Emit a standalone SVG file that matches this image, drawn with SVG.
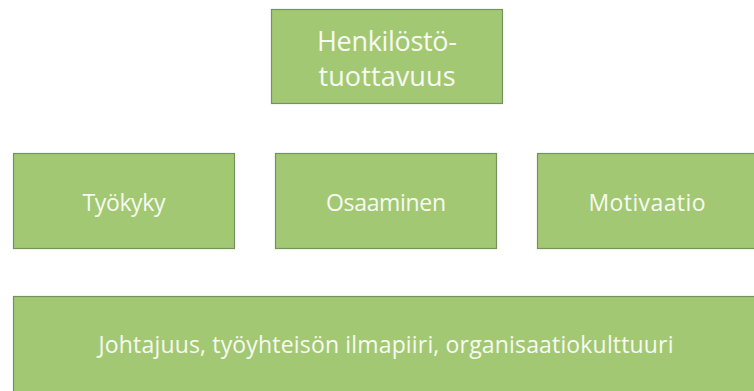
<svg xmlns="http://www.w3.org/2000/svg" width="754" height="391" viewBox="0 0 754 391">
<style>
.box{fill:#a3c873;stroke:#72945a;stroke-width:1.2}
.t{font-family:"Open Sans","Noto Sans","DejaVu Sans",sans-serif;fill:#f7faf2;text-anchor:middle;font-size:23px}
.big{font-size:27px}
</style>
<rect width="754" height="391" fill="#ffffff"/>
<g id="henkilostotuottavuus">
<rect class="box" x="271.5" y="9.5" width="231" height="94"/>
<text class="t big" x="387" y="51" textLength="140" lengthAdjust="spacing">Henkilöstö-</text>
<text class="t big" x="387" y="86" textLength="137" lengthAdjust="spacing">tuottavuus</text>
</g>
<g id="tyokyky">
<rect class="box" x="13.5" y="153.5" width="221" height="95"/>
<text class="t" x="124" y="211" textLength="83" lengthAdjust="spacing">Työkyky</text>
</g>
<g id="osaaminen">
<rect class="box" x="275.5" y="153.5" width="221" height="95"/>
<text class="t" x="386" y="211" textLength="120" lengthAdjust="spacing">Osaaminen</text>
</g>
<g id="motivaatio">
<rect class="box" x="537.5" y="153.5" width="221" height="95"/>
<text class="t" x="647" y="211" textLength="117" lengthAdjust="spacing">Motivaatio</text>
</g>
<g id="johtajuus">
<rect class="box" x="13.5" y="296.5" width="746" height="100"/>
<text class="t" x="386" y="353" textLength="575" lengthAdjust="spacing">Johtajuus, työyhteisön ilmapiiri, organisaatiokulttuuri</text>
</g>
<g id="connectors"></g>
</svg>
